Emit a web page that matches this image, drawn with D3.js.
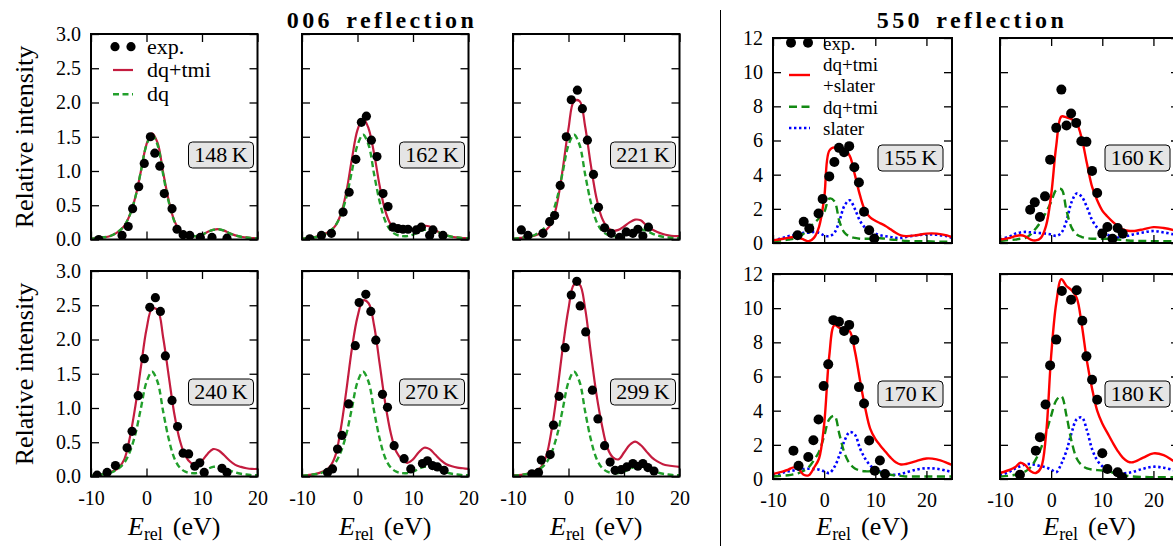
<!DOCTYPE html>
<html>
<head>
<meta charset="utf-8">
<script src="https://cdn.jsdelivr.net/npm/d3@7"></script>
<style>
  body { margin: 0; background: #fff; }
  svg { display: block; font-family: "Liberation Serif", "Times New Roman", serif; }
</style>
</head>
<body>
<svg id="fig" width="1173" height="546"></svg>
<script>
// ---------- 006 reflection ----------
const energy006 = [-10,-9,-8,-7,-6,-5,-4,-3,-2,-1,0,1,2,3,4,5,6,7,8,9,10,11,12,13,14,15,16,17,18,19,20];
const dq006 = [0.01,0.02,0.03,0.04,0.07,0.12,0.2,0.36,0.62,1.0,1.38,1.53,1.38,0.95,0.55,0.27,0.13,0.07,0.05,0.05,0.07,0.11,0.14,0.15,0.13,0.09,0.06,0.04,0.03,0.02,0.02];
const fit148 = [0.01,0.02,0.03,0.04,0.07,0.12,0.2,0.36,0.62,1.0,1.39,1.55,1.41,0.98,0.57,0.28,0.13,0.07,0.05,0.05,0.07,0.11,0.14,0.15,0.13,0.09,0.06,0.04,0.03,0.02,0.02];
const fit162 = [0.01,0.02,0.03,0.05,0.08,0.12,0.2,0.37,0.7,1.18,1.6,1.77,1.62,1.25,0.78,0.42,0.22,0.15,0.13,0.13,0.15,0.18,0.2,0.19,0.14,0.09,0.06,0.04,0.03,0.02,0.02];
const fit221 = [0.01,0.02,0.03,0.04,0.06,0.09,0.14,0.25,0.55,1.05,1.62,2.02,2.02,1.65,1.1,0.62,0.32,0.18,0.13,0.14,0.19,0.25,0.29,0.28,0.21,0.15,0.11,0.08,0.06,0.05,0.05];
const fit240 = [0.01,0.02,0.03,0.05,0.08,0.13,0.25,0.57,1.03,1.6,2.15,2.45,2.43,2.03,1.47,0.92,0.53,0.3,0.2,0.17,0.23,0.33,0.4,0.38,0.31,0.23,0.17,0.14,0.12,0.11,0.11];
const fit270 = [0.01,0.02,0.03,0.05,0.08,0.14,0.3,0.7,1.26,1.87,2.33,2.57,2.53,2.2,1.64,1.07,0.63,0.36,0.25,0.2,0.25,0.35,0.42,0.4,0.32,0.24,0.18,0.15,0.13,0.12,0.11];
const fit299 = [0.02,0.02,0.03,0.05,0.08,0.13,0.3,0.7,1.26,1.9,2.45,2.8,2.8,2.45,1.82,1.22,0.76,0.42,0.28,0.25,0.35,0.46,0.51,0.46,0.37,0.28,0.22,0.18,0.16,0.15,0.14];

const exp148 = [[-8.6,0.0],[-4.4,0.06],[-3.3,0.19],[-2.5,0.45],[-1.4,0.77],[-0.4,1.11],[0.7,1.5],[1.5,1.26],[2.4,1.07],[3.2,0.67],[4.6,0.45],[5.5,0.15],[6.6,0.07],[7.8,0.06],[9.7,0.03],[11.8,0.03],[14.5,0.02]];
const exp162 = [[-8.6,0.01],[-6.5,0.06],[-4.7,0.09],[-2.6,0.4],[-1.5,0.69],[-0.3,1.17],[0.7,1.71],[1.6,1.8],[2.5,1.45],[3.5,1.21],[4.6,0.67],[5.5,0.48],[6.4,0.18],[7.3,0.16],[8.2,0.15],[9.1,0.15],[10.6,0.14],[11.5,0.18],[13.0,0.06],[13.6,0.14],[15.4,0.06]];
const exp221 = [[-8.5,0.14],[-7.3,0.06],[-4.6,0.09],[-3.4,0.26],[-2.5,0.35],[-1.5,0.79],[-0.4,1.5],[0.5,2.04],[1.6,2.18],[2.5,1.91],[3.4,1.45],[4.5,0.95],[5.4,0.47],[6.5,0.17],[7.7,0.09],[9.2,0.03],[10.4,0.11],[11.6,0.09],[12.5,0.15],[13.4,0.05],[14.4,0.18]];
const exp240 = [[-8.9,0.02],[-7.1,0.06],[-5.6,0.16],[-3.5,0.42],[-2.6,0.66],[-1.5,1.18],[-0.4,1.72],[0.6,2.47],[1.6,2.61],[2.5,2.41],[3.4,1.76],[4.6,1.11],[5.6,0.73],[6.6,0.34],[7.6,0.33],[8.7,0.15],[9.6,0.2],[10.4,0.06],[13.6,0.12],[14.5,0.06]];
const exp270 = [[-5.4,0.06],[-4.5,0.11],[-3.6,0.4],[-2.8,0.6],[-1.6,1.06],[-0.4,1.91],[0.3,2.54],[1.5,2.66],[2.4,2.41],[3.3,1.99],[4.5,1.2],[5.4,1.01],[6.6,0.45],[8.4,0.26],[9.6,0.11],[11.7,0.19],[12.6,0.23],[13.5,0.16],[14.4,0.14],[15.6,0.09]];
const exp299 = [[-6.6,0.04],[-5.4,0.06],[-4.9,0.24],[-3.3,0.32],[-2.7,0.75],[-1.7,1.17],[-0.6,1.88],[0.5,2.65],[1.5,2.85],[2.1,2.49],[3.1,2.11],[4.3,1.26],[5.3,0.84],[6.5,0.45],[7.5,0.21],[8.4,0.09],[9.5,0.1],[10.5,0.14],[11.6,0.19],[12.5,0.15],[13.4,0.19],[14.3,0.13],[15.4,0.08]];

const temps006 = ["148\u2009K","162\u2009K","221\u2009K","240\u2009K","270\u2009K","299\u2009K"];
const xTicks006 = [-10, 0, 10, 20];
const xTickLabels006 = ["-10", "0", "10", "20"];
const yTicks006 = [0, 0.5, 1, 1.5, 2, 2.5, 3];
const yTickLabels006 = ["0.0","0.5","1.0","1.5","2.0","2.5","3.0"];

// ---------- 550 reflection ----------
const energy550 = [-10,-8,-7,-6,-5,-4,-3,-2,-1,0,1,2,3,4,5,6,7,8,9,10,11,12,13,14,15,16,18,20,22,24,25];
const total155 = [0.15,0.25,0.3,0.35,0.3,0.2,0.1,0.3,0.95,2.6,5.4,5.6,5.4,5.45,5.1,4.0,2.8,1.9,1.5,1.3,1.15,1.0,0.8,0.6,0.45,0.4,0.45,0.55,0.55,0.45,0.35];
const dqtmi155 = [0.1,0.15,0.2,0.25,0.35,0.55,0.9,1.15,1.45,1.8,2.6,2.45,1.25,0.6,0.38,0.3,0.25,0.25,0.25,0.3,0.28,0.25,0.2,0.18,0.15,0.12,0.1,0.1,0.08,0.08,0.08];
const slater155 = [0.15,0.3,0.4,0.45,0.5,0.6,0.6,0.65,0.6,0.45,0.4,0.6,1.3,2.2,2.5,2.0,1.3,0.9,0.7,0.55,0.45,0.4,0.35,0.3,0.3,0.35,0.45,0.5,0.48,0.4,0.3];
const total160 = [0.2,0.3,0.4,0.45,0.38,0.2,0.15,0.3,1.0,2.8,5.7,7.4,7.35,7.25,7.0,6.1,4.65,3.3,2.5,1.9,1.55,1.25,1.0,0.8,0.72,0.7,0.8,0.93,0.88,0.75,0.65];
const dqtmi160 = [0.12,0.18,0.2,0.25,0.3,0.5,0.85,1.25,1.8,2.4,3.1,3.15,1.9,0.9,0.5,0.35,0.28,0.25,0.25,0.25,0.25,0.22,0.2,0.18,0.15,0.13,0.12,0.1,0.1,0.1,0.1];
const slater160 = [0.2,0.4,0.55,0.62,0.65,0.62,0.6,0.58,0.55,0.5,0.42,0.6,1.3,2.4,2.9,2.7,2.1,1.35,0.9,0.65,0.48,0.38,0.32,0.35,0.42,0.5,0.62,0.7,0.62,0.5,0.42];
const total170 = [0.3,0.45,0.55,0.68,0.58,0.25,0.22,0.65,1.2,3.2,7.2,9.0,8.85,8.75,8.65,7.5,5.8,4.2,2.95,2.35,1.95,1.6,1.25,0.98,0.85,0.88,1.05,1.2,1.15,0.95,0.82];
const dqtmi170 = [0.15,0.2,0.22,0.27,0.35,0.48,0.7,1.1,1.6,2.5,3.5,3.7,2.6,1.5,0.9,0.62,0.5,0.45,0.45,0.45,0.38,0.3,0.25,0.2,0.18,0.15,0.15,0.15,0.15,0.15,0.15];
const slater170 = [0.2,0.38,0.45,0.5,0.55,0.58,0.6,0.58,0.55,0.45,0.35,0.7,1.4,2.25,2.75,2.6,1.8,1.2,0.8,0.56,0.42,0.3,0.25,0.25,0.3,0.38,0.55,0.63,0.6,0.48,0.4];
const total180 = [0.35,0.55,0.7,0.95,0.8,0.45,0.35,0.65,2.6,7.2,10.3,11.7,11.3,11.05,10.6,9.0,6.9,5.3,4.0,3.25,2.7,2.15,1.65,1.25,1.02,0.98,1.25,1.5,1.4,1.05,0.9];
const dqtmi180 = [0.14,0.2,0.25,0.33,0.45,0.7,1.15,1.8,2.7,3.7,4.6,4.85,3.7,2.2,1.2,0.8,0.62,0.55,0.52,0.5,0.48,0.38,0.28,0.22,0.18,0.15,0.12,0.1,0.1,0.1,0.1];
const slater180 = [0.2,0.45,0.62,0.75,0.85,0.88,0.82,0.75,0.68,0.55,0.4,0.9,1.65,2.7,3.5,3.6,2.85,1.75,1.1,0.75,0.55,0.42,0.33,0.32,0.36,0.42,0.6,0.72,0.66,0.52,0.45];

const exp155 = [[-5.2,0.45],[-4.0,1.24],[-2.9,0.85],[-1.1,1.73],[-0.3,2.58],[1.0,3.9],[2.0,4.74],[2.9,5.57],[3.9,5.31],[4.9,5.67],[5.9,4.43],[6.8,3.54],[7.8,1.83],[8.8,0.75],[9.8,0.26]];
const exp160 = [[-4.1,1.95],[-3.2,2.38],[-2.2,1.52],[-1.2,2.73],[-0.2,4.88],[1.0,6.74],[2.0,8.98],[3.0,6.88],[3.9,7.58],[4.9,7.03],[5.9,5.96],[6.9,5.92],[8.0,4.22],[9.0,2.93],[10.0,0.55],[11.0,0.94],[12.0,0.25],[13.0,0.88],[14.0,0.55]];
const exp170 = [[-6.0,1.66],[-5.0,0.78],[-3.1,1.29],[-2.1,2.27],[-1.1,3.48],[-0.1,5.44],[0.8,6.71],[1.8,9.3],[2.9,9.2],[3.9,8.67],[4.9,9.02],[5.9,8.14],[6.8,5.38],[7.8,4.42],[8.8,2.25],[9.9,0.49],[10.9,1.08],[11.9,0.29]];
const exp180 = [[-6.1,0.25],[-3.0,1.66],[-2.2,2.45],[-1.1,4.36],[-0.2,6.65],[1.0,8.16],[2.1,11.0],[3.9,10.5],[5.0,11.05],[6.1,9.26],[6.9,7.18],[8.0,5.81],[9.0,4.64],[10.0,1.51],[11.0,0.59],[13.0,0.39],[13.9,0.1]];

const temps550 = ["155\u2009K","160\u2009K","170\u2009K","180\u2009K"];
const xTicks550 = [-10, 0, 10, 20];
const xTickLabels550 = ["-10", "0", "10", "20"];
const yTicks550 = [0, 2, 4, 6, 8, 10, 12];
const yTickLabels550 = ["0","2","4","6","8","10","12"];

// ---------- styles ----------
const CRIMSON = "#c41c3f";
const LIGHTGREEN = "#22a02c";
const RED = "#ff0000";
const GREEN = "#138a13";
const BLUE = "#0000ff";
const FONT = "Liberation Serif";

const svg = d3.select("#fig");
const defs = svg.append("defs");
let clipCount = 0;

function panel(cfg) {
  const g = svg.append("g").attr("transform", `translate(${cfg.left},${cfg.top})`);
  const x = d3.scaleLinear().domain(cfg.xDomain).range([0, cfg.width]);
  const y = d3.scaleLinear().domain(cfg.yDomain).range([cfg.height, 0]);
  const id = "plotclip" + (clipCount++);
  defs.append("clipPath").attr("id", id)
    .append("rect").attr("width", cfg.width).attr("height", cfg.height);
  const plot = g.append("g").attr("clip-path", `url(#${id})`);

  cfg.series.forEach(s => {
    const line = d3.line()
      .x((d, i) => x(cfg.energy[i]))
      .y(d => y(d))
      .curve(d3.curveCatmullRom.alpha(0.5));
    plot.append("path").datum(s.values)
      .attr("fill", "none")
      .attr("stroke", s.color)
      .attr("stroke-width", s.width)
      .attr("stroke-dasharray", s.dash || null)
      .attr("d", line);
  });

  plot.append("g").selectAll("circle").data(cfg.points).join("circle")
    .attr("cx", d => x(d[0])).attr("cy", d => y(d[1]))
    .attr("r", cfg.r).attr("fill", "#000");

  // inward ticks on all four sides
  const T = 8;
  const style = a => a.call(s => s.select(".domain").remove())
    .call(s => s.selectAll(".tick line").attr("stroke", "#000").attr("stroke-width", 1.3))
    .call(s => s.selectAll(".tick text").attr("fill", "#000"))
    .attr("font-family", FONT).attr("font-size", 20);
  const none = () => "";

  g.append("g").attr("transform", `translate(0,${cfg.height})`)
    .call(d3.axisBottom(x).tickValues(cfg.xTicks).tickSizeInner(-T).tickSizeOuter(0).tickPadding(14)
      .tickFormat(cfg.showX ? (d, i) => cfg.xTickLabels[i] : none))
    .call(style);
  g.append("g")
    .call(d3.axisTop(x).tickValues(cfg.xTicks).tickSizeInner(-T).tickSizeOuter(0).tickFormat(none))
    .call(style);
  g.append("g")
    .call(d3.axisLeft(y).tickValues(cfg.yTicks).tickSizeInner(-T).tickSizeOuter(0).tickPadding(10)
      .tickFormat(cfg.showY ? (d, i) => cfg.yTickLabels[i] : none))
    .call(style);
  g.append("g").attr("transform", `translate(${cfg.width},0)`)
    .call(d3.axisRight(y).tickValues(cfg.yTicks).tickSizeInner(-T).tickSizeOuter(0).tickFormat(none))
    .call(style);

  g.append("rect").attr("width", cfg.width).attr("height", cfg.height)
    .attr("fill", "none").attr("stroke", "#000").attr("stroke-width", 2);

  // temperature tag
  const bw = 65, bh = 26;
  const tag = g.append("g")
    .attr("transform", `translate(${cfg.width - cfg.tagInset - bw / 2},${cfg.tagY})`);
  tag.append("rect").attr("x", -bw / 2).attr("y", -bh / 2).attr("width", bw).attr("height", bh)
    .attr("rx", 4).attr("fill", "#e5e5e5").attr("stroke", "#000").attr("stroke-width", 1);
  tag.append("text").attr("text-anchor", "middle").attr("dy", "0.34em")
    .attr("font-size", 22).attr("fill", "#000").text(cfg.tag);

  return { g, x, y };
}

// ---------- 006 panels ----------
const left006 = [91, 302, 513], top006 = [34, 271];
const W006 = 166.5, H006 = 205.5;
const fits006 = [fit148, fit162, fit221, fit240, fit270, fit299];
const exps006 = [exp148, exp162, exp221, exp240, exp270, exp299];

let panelA;
fits006.forEach((fit, k) => {
  const row = Math.floor(k / 3), col = k % 3;
  const p = panel({
    left: left006[col], top: top006[row], width: W006, height: H006,
    xDomain: [-10, 20], yDomain: [0, 3],
    energy: energy006,
    series: [
      { values: fit, color: CRIMSON, width: 2.2 },
      { values: dq006, color: LIGHTGREEN, width: 2.4, dash: "6,3.5" }
    ],
    points: exps006[k], r: 4.6,
    xTicks: xTicks006, xTickLabels: xTickLabels006, showX: row === 1,
    yTicks: yTicks006, yTickLabels: yTickLabels006, showY: col === 0,
    tag: temps006[k], tagInset: 4, tagY: 121
  });
  if (k === 0) panelA = p;
});

// ---------- 550 panels ----------
const left550 = [773, 1000], top550 = [38, 274];
const W550 = 179, H550 = 205;
const totals550 = [total155, total160, total170, total180];
const dqtmis550 = [dqtmi155, dqtmi160, dqtmi170, dqtmi180];
const slaters550 = [slater155, slater160, slater170, slater180];
const exps550 = [exp155, exp160, exp170, exp180];

let panelG;
totals550.forEach((tot, k) => {
  const row = Math.floor(k / 2), col = k % 2;
  const p = panel({
    left: left550[col], top: top550[row], width: W550, height: H550,
    xDomain: [-10, 25], yDomain: [0, 12],
    energy: energy550,
    series: [
      { values: slaters550[k], color: BLUE, width: 2.6, dash: "2.4,2.6" },
      { values: dqtmis550[k], color: GREEN, width: 2.4, dash: "8,4.5" },
      { values: tot, color: RED, width: 2.4 }
    ],
    points: exps550[k], r: 5,
    xTicks: xTicks550, xTickLabels: xTickLabels550, showX: row === 1,
    yTicks: yTicks550, yTickLabels: yTickLabels550, showY: col === 0,
    tag: temps550[k], tagInset: 9, tagY: 120
  });
  if (k === 0) panelG = p;
});

// ---------- legends ----------
// each entry: marker at y, text lines with their own baselines
function legend(g, items, mx0, mx1, tx, fontSize) {
  items.forEach(it => {
    if (it.kind === "dots") {
      g.append("circle").attr("cx", mx0 + 2).attr("cy", it.y).attr("r", it.r).attr("fill", "#000");
      g.append("circle").attr("cx", mx1 - 2).attr("cy", it.y).attr("r", it.r).attr("fill", "#000");
    } else {
      g.append("line").attr("x1", mx0).attr("x2", mx1).attr("y1", it.y).attr("y2", it.y)
        .attr("stroke", it.color).attr("stroke-width", it.width)
        .attr("stroke-dasharray", it.dash || null);
    }
    it.lines.forEach((ln, j) => {
      g.append("text").attr("x", tx).attr("y", it.baselines[j])
        .attr("font-family", FONT).attr("font-size", fontSize).attr("fill", "#000").text(ln);
    });
  });
}

legend(panelA.g, [
  { kind: "dots", y: 12.7, r: 4.6, lines: ["exp."], baselines: [19.5] },
  { kind: "line", y: 36, color: CRIMSON, width: 2.2, lines: ["dq+tmi"], baselines: [43] },
  { kind: "line", y: 60.3, color: LIGHTGREEN, width: 2.4, dash: "6,3.5", lines: ["dq"], baselines: [67] }
], 22, 42, 56, 22);

legend(panelG.g, [
  { kind: "dots", y: 4.7, r: 5, lines: ["exp."], baselines: [12] },
  { kind: "line", y: 37, color: RED, width: 2.4, lines: ["dq+tmi", "+slater"], baselines: [33, 54] },
  { kind: "line", y: 68.7, color: GREEN, width: 2.4, dash: "8,4.5", lines: ["dq+tmi"], baselines: [75.5] },
  { kind: "line", y: 90, color: BLUE, width: 2.6, dash: "2.4,2.6", lines: ["slater"], baselines: [97] }
], 16, 37, 50, 19);

// ---------- titles, axis labels, divider ----------
[["006 reflection", 382], ["550 reflection", 972]].forEach(([label, cx]) => {
  svg.append("text").attr("x", cx).attr("y", 28).attr("text-anchor", "middle")
    .attr("font-size", 24).attr("font-weight", "bold")
    .attr("letter-spacing", 3.4).attr("word-spacing", 4)
    .text(label);
});

[137, 374].forEach(cy => {
  svg.append("text").attr("transform", `translate(33,${cy}) rotate(-90)`)
    .attr("text-anchor", "middle").attr("font-size", 26).text("Relative intensity");
});

function xLabel(cx) {
  const t = svg.append("text").attr("x", cx).attr("y", 535).attr("text-anchor", "middle")
    .attr("font-size", 26);
  t.append("tspan").attr("font-style", "italic").text("E");
  t.append("tspan").attr("font-size", 18).attr("dy", 5).text("rel");
  t.append("tspan").attr("dy", -5).attr("dx", 10).text("(eV)");
}
left006.forEach(l => xLabel(l + W006 / 2));
left550.forEach(l => xLabel(l + W550 / 2));

svg.append("line").attr("x1", 720.5).attr("x2", 720.5).attr("y1", 10).attr("y2", 546)
  .attr("stroke", "#000").attr("stroke-width", 1);
</script>
</body>
</html>
